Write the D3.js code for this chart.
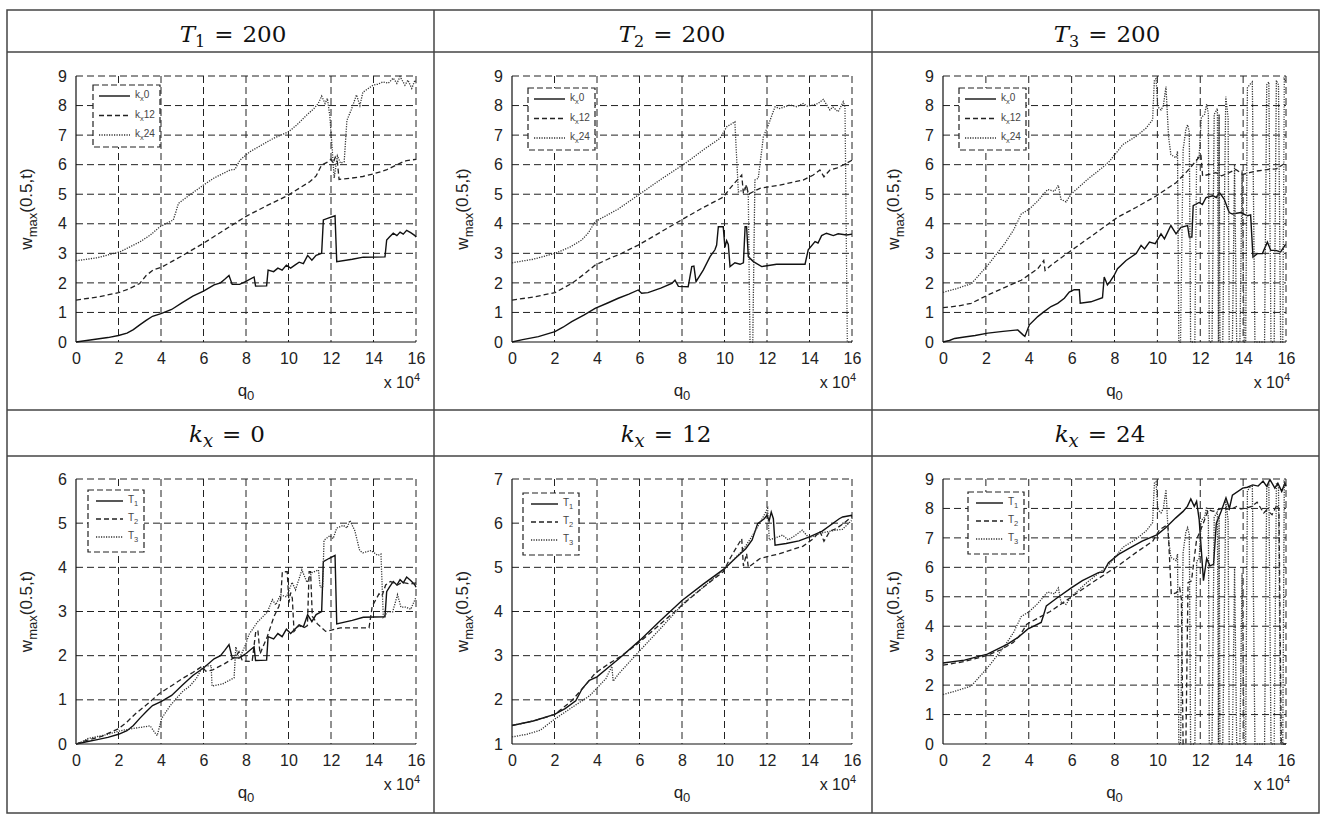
<!DOCTYPE html>
<html>
<head>
<meta charset="utf-8">
<script src="https://cdn.jsdelivr.net/npm/d3@7"></script>
<style>
  body { margin: 0; background: #fff; }
  text { font-family: "Liberation Sans", Arial, sans-serif; }
</style>
</head>
<body>
<svg id="fig" width="1325" height="820"></svg>
<script>
// ---- data (x in units of 10^4) ----
const xTicks = [0, 2, 4, 6, 8, 10, 12, 14, 16];

const T1_kx0 = [[0,0],[0.5,0.05],[1,0.1],[1.5,0.15],[2,0.22],[2.4,0.3],[2.7,0.42],[3,0.58],[3.3,0.73],[3.6,0.87],[4,0.96],[4.5,1.1],[5,1.33],[5.5,1.55],[6,1.72],[6.5,1.93],[6.8,2.0],[7.0,2.12],[7.2,2.25],[7.35,1.95],[7.7,1.95],[8.0,2.05],[8.38,2.2],[8.45,1.89],[8.97,1.9],[9.04,2.43],[9.3,2.38],[9.5,2.5],[9.7,2.43],[9.9,2.6],[10.1,2.5],[10.3,2.6],[10.5,2.7],[10.7,2.65],[10.9,2.93],[11.1,2.77],[11.3,2.93],[11.56,3.0],[11.64,4.13],[11.9,4.2],[12.19,4.27],[12.27,2.72],[13.0,2.8],[13.52,2.87],[14.54,2.88],[14.62,3.45],[14.75,3.55],[14.93,3.68],[15.1,3.6],[15.25,3.72],[15.4,3.65],[15.56,3.78],[15.75,3.7],[15.95,3.6],[16,3.55]];
const T1_kx12 = [[0,1.42],[1,1.52],[2,1.67],[2.5,1.8],[3,1.98],[3.3,2.25],[3.64,2.44],[4,2.52],[4.5,2.72],[5,2.92],[6,3.34],[7,3.8],[8,4.25],[9,4.62],[10,4.97],[10.5,5.2],[11,5.42],[11.3,5.62],[11.56,5.99],[11.87,6.1],[12.0,6.18],[12.1,6.05],[12.2,6.25],[12.3,6.1],[12.38,5.5],[12.9,5.54],[13.5,5.6],[14,5.69],[14.6,5.82],[15.4,6.1],[15.56,6.14],[16,6.18]];
const T1_kx24 = [[0,2.75],[1,2.85],[2.07,3.05],[3.01,3.39],[3.5,3.62],[3.95,3.9],[4.58,4.13],[4.7,4.4],[4.82,4.69],[5.3,4.95],[6,5.31],[6.5,5.55],[7.25,5.82],[7.48,5.84],[7.72,6.16],[8.19,6.44],[8.7,6.65],[9.29,6.89],[10,7.11],[10.4,7.35],[10.86,7.68],[11.2,7.9],[11.4,8.07],[11.56,8.32],[11.72,8.07],[11.83,8.24],[11.95,7.62],[12.15,5.55],[12.3,6.3],[12.45,6.05],[12.62,6.1],[12.75,7.5],[12.95,7.85],[13.2,8.36],[13.36,8.0],[13.5,8.45],[13.98,8.69],[14.2,8.72],[14.45,8.8],[14.7,8.76],[14.93,8.93],[15.1,8.75],[15.25,8.98],[15.48,8.69],[15.62,8.86],[15.8,8.58],[15.95,8.86],[16,8.75]];

const T2_kx0 = [[0,0],[0.5,0.08],[1.24,0.18],[2.02,0.35],[2.4,0.5],[2.81,0.69],[3.4,0.92],[3.91,1.14],[4.5,1.32],[5.0,1.48],[5.5,1.62],[5.94,1.76],[6.1,1.65],[6.4,1.67],[7.0,1.82],[7.52,1.98],[7.67,2.09],[7.83,1.88],[8.29,1.87],[8.46,2.55],[8.56,2.57],[8.66,2.04],[9.0,2.43],[9.32,2.89],[9.55,3.12],[9.63,3.28],[9.71,3.9],[9.94,3.9],[10.02,3.2],[10.1,3.43],[10.18,3.3],[10.26,2.55],[10.49,2.68],[10.73,2.63],[10.89,2.68],[10.97,3.9],[11.04,3.9],[11.12,2.89],[11.36,2.72],[11.75,2.55],[12.45,2.63],[13.79,2.63],[13.94,3.12],[14.26,3.4],[14.4,3.35],[14.57,3.6],[14.8,3.68],[15.12,3.6],[15.35,3.66],[15.75,3.62],[16,3.65]];
const T2_kx12 = [[0,1.42],[1,1.52],[2.02,1.67],[2.81,1.98],[3.4,2.3],[3.91,2.6],[4.5,2.8],[5.16,3.0],[5.94,3.28],[7,3.72],[8.14,4.2],[9,4.55],[9.94,4.9],[10.26,5.2],[10.5,5.4],[10.81,5.65],[10.89,5.03],[11.04,5.31],[11.12,5.0],[11.67,5.2],[12.6,5.31],[13.7,5.48],[14.18,5.65],[14.49,5.82],[14.68,5.59],[14.96,5.82],[15.27,5.88],[15.59,5.99],[16,6.15]];
const T2_kx24 = [[0,2.68],[1,2.8],[2.02,3.0],[2.7,3.2],[3.28,3.45],[3.6,3.7],[3.91,4.07],[5,4.5],[5.94,4.97],[7,5.5],[8.14,6.04],[9,6.5],[9.79,6.89],[10.1,7.28],[10.49,7.45],[10.65,5.08],[10.89,5.14],[11.04,5.3],[11.12,4.92],[11.2,0],[11.33,0],[11.43,5.48],[11.59,5.54],[11.83,6.95],[12.06,7.34],[12.38,7.96],[12.6,7.9],[13.08,8.02],[13.4,7.96],[13.7,8.07],[13.9,7.98],[14.18,8.02],[14.4,8.07],[14.65,8.21],[14.96,7.85],[15.1,7.95],[15.35,7.79],[15.59,8.13],[15.67,7.96],[15.78,0],[16,0]];

const T3_kx0 = [[0,0],[0.3,0.05],[0.54,0.12],[1,0.17],[1.5,0.22],[2.09,0.3],[2.8,0.36],[3.49,0.41],[3.72,0.25],[3.82,0.19],[4.03,0.58],[4.42,0.86],[4.7,1.02],[5.04,1.2],[5.35,1.31],[5.66,1.48],[5.89,1.69],[6.12,1.77],[6.36,1.77],[6.4,1.31],[6.9,1.36],[7.44,1.5],[7.52,2.2],[7.67,1.93],[7.8,2.05],[7.98,2.25],[8.14,2.48],[8.54,2.76],[9.01,2.99],[9.24,3.27],[9.4,3.15],[9.63,3.38],[9.9,3.33],[10.17,3.66],[10.33,3.49],[10.63,3.94],[10.87,3.66],[11.1,3.88],[11.41,3.94],[11.49,3.55],[11.61,3.55],[11.67,4.61],[11.95,4.72],[12.1,4.65],[12.27,4.89],[12.58,4.95],[12.75,4.89],[12.89,5.06],[13.0,4.95],[13.12,4.83],[13.35,4.38],[13.5,4.33],[13.89,4.38],[14.2,4.27],[14.35,4.3],[14.46,2.87],[14.66,2.99],[14.9,2.99],[15.13,3.38],[15.29,3.1],[15.52,3.1],[15.75,3.05],[15.98,3.3]];
const T3_kx12 = [[0,1.16],[0.7,1.22],[1.32,1.31],[2.09,1.59],[2.8,1.82],[3.65,2.09],[4.42,2.48],[4.7,2.76],[4.76,2.42],[5.04,2.6],[5.97,3.09],[7,3.62],[8.14,4.22],[9,4.55],[9.94,4.94],[10.87,5.39],[11.33,5.73],[11.8,6.12],[12.03,6.34],[12.11,5.62],[12.42,5.67],[12.73,5.73],[13.0,5.62],[13.35,5.73],[13.66,5.84],[13.97,5.67],[14.3,5.73],[14.58,5.78],[15.2,5.84],[15.55,5.86],[15.98,6.06]];
const T3_kx24 = [[0,1.68],[0.6,1.8],[1.32,1.97],[2.09,2.6],[2.87,3.32],[3.3,3.8],[3.65,4.33],[4.03,4.5],[4.42,4.77],[4.88,5.16],[5.2,5.1],[5.38,5.3],[5.5,4.83],[5.74,4.74],[5.97,5.0],[6.74,5.5],[7.52,5.95],[7.77,6.12],[8.14,6.45],[8.39,6.68],[9.01,6.96],[9.48,7.24],[9.78,7.52],[9.86,8.86],[9.94,8.91],[10.02,7.96],[10.17,7.85],[10.28,8.0],[10.4,8.64],[10.52,6.96],[10.63,6.34],[10.87,6.23],[10.94,6.45],[11.0,0],[11.08,0],[11.2,6.5],[11.33,7.2],[11.41,7.35],[11.49,7.1],[11.55,0],[11.75,0],[11.83,6.2],[11.95,6.3],[12.05,7.6],[12.2,7.7],[12.3,8.05],[12.38,7.7],[12.42,0],[12.55,0],[12.65,7.7],[12.8,7.9],[12.85,0],[12.88,7.7],[12.92,0],[13.05,0],[13.19,8.3],[13.3,7.6],[13.35,0],[13.5,0],[13.6,6.0],[13.7,0],[13.85,0],[13.95,5.8],[14.05,0],[14.12,0],[14.2,8.6],[14.3,8.7],[14.43,8.8],[14.55,0],[14.75,0],[14.85,0],[15.0,0],[15.1,8.7],[15.2,8.8],[15.3,0],[15.45,0],[15.55,8.85],[15.65,8.7],[15.75,0],[15.85,0],[15.92,8.9],[16,8.8]];

// titles and legend labels: [main, subscript, rest]
const titles = [["T","1","200"],["T","2","200"],["T","3","200"],["k","x","0"],["k","x","12"],["k","x","24"]];
const kxLabels = [["k","x","0"],["k","x","12"],["k","x","24"]];
const tLabels = [["T","1",""],["T","2",""],["T","3",""]];
const yDomains = [[0,9],[0,9],[0,9],[0,6],[1,7],[0,9]];
const panelSeries = [
    [T1_kx0, T1_kx12, T1_kx24],
    [T2_kx0, T2_kx12, T2_kx24],
    [T3_kx0, T3_kx12, T3_kx24],
    [T1_kx0, T2_kx0, T3_kx0],
    [T1_kx12, T2_kx12, T3_kx12],
    [T1_kx24, T2_kx24, T3_kx24]
];

// ---- layout ----
const sans = "'Liberation Sans', Arial, sans-serif";
const svg = d3.select("#fig");
const colX = [7, 434, 872, 1319];
const rowY = [10, 52, 410, 456, 813];
const plotLeft = [76, 512, 943], plotW = [340, 340, 343];
const plotTop = [76, 479], plotH = [266, 265];
const titleX = [233, 672, 1107, 227, 666, 1100];
const titleY = [42, 442];
const legendPos = [[17,9],[16,12],[16,12],[12,11],[11,14],[25,13]];
const lineStyles = [
    {dash: null, w: 1.4, c: "#111"},
    {dash: "5,3", w: 1.3, c: "#222"},
    {dash: "1.2,1.3", w: 1.3, c: "#333"}
];
const gridDash = "7,4";

// table frame
svg.append("rect")
    .attr("x", colX[0]).attr("y", rowY[0])
    .attr("width", colX[3] - colX[0]).attr("height", rowY[4] - rowY[0])
    .attr("fill", "none").attr("stroke", "#444").attr("stroke-width", 1.5);
[rowY[1], rowY[2], rowY[3]].forEach(y => {
    svg.append("line").attr("x1", colX[0]).attr("x2", colX[3]).attr("y1", y).attr("y2", y)
        .attr("stroke", "#444").attr("stroke-width", 1.5);
});
[colX[1], colX[2]].forEach(x => {
    svg.append("line").attr("x1", x).attr("x2", x).attr("y1", rowY[0]).attr("y2", rowY[4])
        .attr("stroke", "#444").attr("stroke-width", 1.5);
});

panelSeries.forEach((series, p) => {
    const col = p % 3, row = Math.floor(p / 3);
    const w = plotW[col], h = plotH[row];
    const g = svg.append("g").attr("transform", `translate(${plotLeft[col]},${plotTop[row]})`);

    // title
    const t = titles[p];
    const tt = svg.append("text")
        .attr("x", titleX[p]).attr("y", titleY[row])
        .attr("text-anchor", "middle")
        .style("font-family", "'DejaVu Serif', serif")
        .attr("font-size", 23).attr("fill", "#111");
    tt.append("tspan").attr("font-style", "italic").text(t[0]);
    tt.append("tspan").attr("font-size", row === 0 ? 16 : 18).attr("dy", 5)
        .attr("font-style", row === 0 ? "normal" : "italic").text(t[1]);
    tt.append("tspan").attr("dy", -5).attr("dx", 9).text("=");
    tt.append("tspan").attr("dx", 9).text(t[2]);

    const x = d3.scaleLinear().domain([0, 16]).range([0, w]);
    const y = d3.scaleLinear().domain(yDomains[p]).range([h, 0]);
    const yTicks = d3.range(yDomains[p][0], yDomains[p][1] + 1);

    // grid
    g.selectAll(".vg").data(xTicks.slice(1)).join("line")
        .attr("x1", d => x(d)).attr("x2", d => x(d)).attr("y1", 0).attr("y2", h)
        .attr("stroke", "#222").attr("stroke-width", 1).attr("stroke-dasharray", gridDash);
    g.selectAll(".hg").data(yTicks.slice(1)).join("line")
        .attr("x1", 0).attr("x2", w).attr("y1", d => y(d)).attr("y2", d => y(d))
        .attr("stroke", "#222").attr("stroke-width", 1).attr("stroke-dasharray", gridDash);

    // axes
    const ax = g.append("g").attr("transform", `translate(0,${h})`)
        .call(d3.axisBottom(x).tickValues(xTicks).tickFormat(d3.format("d")).tickSize(0).tickPadding(11));
    const ay = g.append("g")
        .call(d3.axisLeft(y).tickValues(yTicks).tickFormat(d3.format("d")).tickSize(0).tickPadding(9));
    [ax, ay].forEach(a => {
        a.select(".domain").remove();
        a.attr("font-size", null).attr("font-family", null);
        a.selectAll("text").attr("fill", "#222")
            .style("font-family", sans).style("font-size", "16px");
    });
    g.append("line").attr("x1", 0).attr("x2", 0).attr("y1", 0).attr("y2", h)
        .attr("stroke", "#111").attr("stroke-width", 1.2);
    g.append("line").attr("x1", 0).attr("x2", w).attr("y1", h).attr("y2", h)
        .attr("stroke", "#111").attr("stroke-width", 1.2);

    // x 10^4
    const ex = g.append("text").attr("x", w + 4).attr("y", h + 46)
        .attr("text-anchor", "end").style("font-family", sans)
        .attr("font-size", 16).attr("fill", "#222");
    ex.append("tspan").text("x 10");
    ex.append("tspan").attr("font-size", 11).attr("dy", -7).text("4");

    // q0
    const ql = g.append("text").attr("x", w / 2).attr("y", h + 54)
        .attr("text-anchor", "middle").style("font-family", sans)
        .attr("font-size", 17).attr("fill", "#222");
    ql.append("tspan").text("q");
    ql.append("tspan").attr("font-size", 13).attr("dy", 4).text("0");

    // y label
    const yl = g.append("text")
        .attr("transform", `translate(-44,${h / 2}) rotate(-90)`)
        .attr("text-anchor", "middle").style("font-family", sans)
        .attr("font-size", 17).attr("fill", "#222");
    yl.append("tspan").text("w");
    yl.append("tspan").attr("font-size", 13).attr("dy", 5).text("max");
    yl.append("tspan").attr("dy", -5).text("(0.5,t)");

    // lines
    const clipId = "clip" + p;
    g.append("clipPath").attr("id", clipId).append("rect")
        .attr("x", -1).attr("y", -2).attr("width", w + 2).attr("height", h + 3);
    const line = d3.line().x(d => x(d[0])).y(d => y(d[1]));
    series.forEach((s, i) => {
        g.append("path").datum(s)
            .attr("clip-path", `url(#${clipId})`)
            .attr("d", line)
            .attr("fill", "none")
            .attr("stroke", lineStyles[i].c)
            .attr("stroke-width", lineStyles[i].w)
            .attr("stroke-dasharray", lineStyles[i].dash);
    });

    // legend
    const labels = row === 0 ? kxLabels : tLabels;
    const lw = row === 0 ? 67 : 56, lh = 62;
    const step = row === 0 ? 19.5 : 18;
    const lg = g.append("g").attr("transform", `translate(${legendPos[p][0]},${legendPos[p][1]})`);
    lg.append("rect").attr("width", lw).attr("height", lh)
        .attr("fill", "#fff").attr("stroke", "#222").attr("stroke-width", 1.2)
        .attr("stroke-dasharray", "6,3");
    labels.forEach((lab, i) => {
        const ly = 11 + i * step;
        const x0 = row === 0 ? 6 : 8, x1 = row === 0 ? 37 : 35;
        lg.append("line").attr("x1", x0).attr("x2", x1).attr("y1", ly).attr("y2", ly)
            .attr("stroke", lineStyles[i].c).attr("stroke-width", lineStyles[i].w)
            .attr("stroke-dasharray", lineStyles[i].dash);
        const lt = lg.append("text").attr("x", x1 + 5).attr("y", ly + 2)
            .style("font-family", sans).attr("font-size", 10).attr("fill", "#444");
        lt.append("tspan").text(lab[0]);
        lt.append("tspan").attr("font-size", 7.5).attr("dy", 3).text(lab[1]);
        if (lab[2]) lt.append("tspan").attr("dy", -3).text(lab[2]);
    });
});
</script>
</body>
</html>
